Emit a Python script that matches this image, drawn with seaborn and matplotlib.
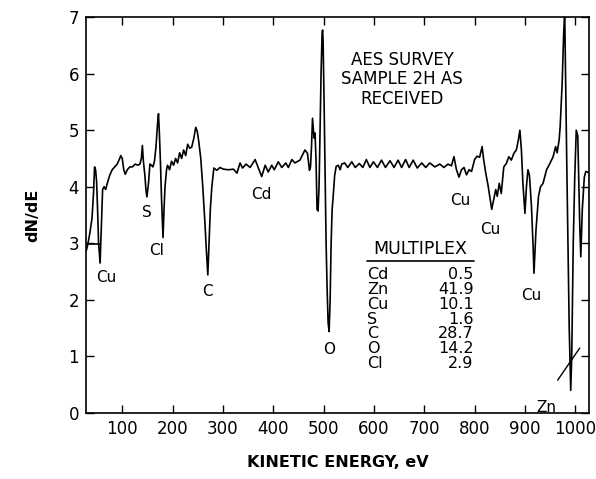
import numpy as np
import pandas as pd
import seaborn as sns
import matplotlib.pyplot as plt

# AES survey spectrum (kinetic energy in eV, dN/dE in arbitrary units)
energy = [29, 32, 36, 40, 43, 45, 47, 49, 51, 53, 56, 59, 61, 64, 67, 70, 75, 80, 85, 90,
          95, 97, 100, 103, 106, 110, 115, 120, 126, 131, 135, 138, 140, 142, 145, 147, 149,
          152, 155, 158, 161, 164, 167, 170, 172, 174, 176, 178, 180, 181, 183, 185, 188, 190,
          194, 198, 202, 206, 210, 214, 218, 222, 226, 230, 234, 238, 242, 246, 249, 252, 256,
          260, 264, 267, 270, 272, 275, 278, 282,
          288, 294, 301, 311, 321, 328, 334, 339, 346, 354, 364, 370, 377, 384, 390, 397, 402,
          410, 417, 425, 430, 437, 443, 453, 463, 468, 472, 474, 476, 478, 481, 483, 485, 487,
          489, 491, 493, 495, 497, 498, 499, 501, 503, 505, 507, 509, 511, 513, 515, 517, 519,
          522, 525, 529, 533, 536, 542, 548, 556, 563, 571, 578, 585, 592, 599, 607, 615, 623,
          632, 640, 648, 655, 663, 670, 678, 686, 695, 703, 711, 721, 731, 739, 747, 754, 759,
          764, 769, 774, 779, 784, 789, 794, 800, 805, 810, 815, 818, 822, 827, 834, 838, 842,
          845, 849, 853, 858, 863, 868, 873, 878, 883, 887, 890, 893, 896, 900, 903, 906, 909,
          913, 916, 918, 922, 927, 931, 936, 943, 949, 956, 961, 964, 968, 970, 974, 977, 979,
          983, 988, 991, 993, 996, 999, 1002, 1005, 1009, 1011, 1014, 1018, 1021, 1026]
dnde = [2.88, 3.0, 3.2, 3.45, 3.9, 4.35, 4.3, 4.1, 3.6, 3.0, 2.65, 3.4, 3.95, 4.0, 3.95, 4.05,
        4.2, 4.3, 4.35, 4.4, 4.5, 4.55, 4.5, 4.3, 4.22, 4.3, 4.35, 4.35, 4.4, 4.38, 4.4, 4.5,
        4.73, 4.45, 4.2, 3.95, 3.82, 4.05, 4.4, 4.38, 4.35, 4.45, 4.7, 5.1, 5.29, 4.9, 4.4, 3.8,
        3.3, 3.1, 3.6, 4.0, 4.3, 4.38, 4.3, 4.45, 4.38, 4.5, 4.42, 4.6, 4.5, 4.65, 4.55, 4.75,
        4.68, 4.7, 4.85, 5.05, 4.98, 4.8, 4.5, 4.0, 3.4, 2.9, 2.44, 2.9, 3.6, 4.0, 4.33,
        4.29, 4.34, 4.31, 4.3, 4.31, 4.24, 4.42, 4.33, 4.4, 4.34, 4.48, 4.34, 4.18, 4.38, 4.26,
        4.38, 4.3, 4.44, 4.34, 4.42, 4.34, 4.48, 4.42, 4.47, 4.65, 4.59, 4.29, 4.35, 4.71, 5.21,
        4.86, 4.95, 4.47, 3.6, 3.57, 4.0, 5.0, 6.0, 6.7, 6.77, 6.6, 5.5, 4.2, 3.0, 2.2, 1.6, 1.44,
        2.0, 3.0, 3.6, 3.82, 4.2, 4.36, 4.38, 4.3, 4.4, 4.42, 4.34, 4.44, 4.34, 4.41, 4.34, 4.48,
        4.34, 4.44, 4.34, 4.47, 4.34, 4.46, 4.34, 4.47, 4.34, 4.48, 4.34, 4.47, 4.33, 4.42, 4.34,
        4.42, 4.35, 4.4, 4.34, 4.4, 4.37, 4.53, 4.3, 4.17, 4.3, 4.34, 4.21, 4.3, 4.27, 4.48, 4.54,
        4.52, 4.71, 4.48, 4.25, 4.01, 3.6, 3.78, 3.95, 3.83, 4.06, 3.88, 4.35, 4.41, 4.53, 4.47,
        4.59, 4.65, 4.83, 5.0, 4.65, 4.06, 3.53, 4.0, 4.3, 4.2, 3.65, 3.0, 2.47, 3.24, 3.83, 4.0,
        4.06, 4.3, 4.4, 4.53, 4.71, 4.6, 4.83, 5.06, 5.83, 6.71, 7.1, 4.5, 1.5, 0.4, 1.0, 3.0,
        4.17, 5.0, 4.9, 3.3, 2.76, 3.6, 4.17, 4.27, 4.25]

# short flat stroke at the start of the trace
stroke_e = [29, 56]
stroke_y = [2.98, 2.98]

# peak labels
peak_names = ['Cu', 'S', 'Cl', 'C', 'Cd', 'O', 'Cu', 'Cu', 'Cu', 'Zn']
peak_e = [68, 148, 169, 269, 376, 511, 771, 832, 913, 942]
peak_y = [2.4, 3.55, 2.88, 2.14, 3.87, 1.13, 3.75, 3.25, 2.08, 0.1]

# multiplex table
mult_elem = ['Cd', 'Zn', 'Cu', 'S', 'C', 'O', 'Cl']
mult_val = ['0.5', '41.9', '10.1', '1.6', '28.7', '14.2', '2.9']

sns.set_style('ticks')
plt.rcParams['font.family'] = ['DejaVu Sans']
plt.rcParams.update({'text.color': 'black', 'axes.labelcolor': 'black',
                     'xtick.color': 'black', 'ytick.color': 'black',
                     'axes.edgecolor': 'black'})

df = pd.DataFrame({'energy': energy, 'dnde': dnde})

fig = plt.figure(figsize=(5.96, 4.79), dpi=100)
ax = fig.add_axes([0.1443, 0.1378, 0.8437, 0.8267])

sns.lineplot(data=df, x='energy', y='dnde', sort=False, estimator=None,
             color='black', linewidth=1.2, ax=ax)
ax.plot(stroke_e, stroke_y, color='black', linewidth=1.2)

ax.set_xlim(28, 1027)
ax.set_ylim(0, 7)
ax.set_xticks(range(100, 1001, 100))
ax.set_yticks(range(0, 8))
ax.tick_params(direction='in', top=True, right=True, length=6, width=1,
               labelsize=12, pad=5)
for s in ax.spines.values():
    s.set_linewidth(1.2)

ax.set_xlabel('KINETIC ENERGY, eV', fontsize=11.5, fontweight='bold', labelpad=12)
ax.set_ylabel('dN/dE', fontsize=11.5, fontweight='bold', labelpad=20)

for name, e, y in zip(peak_names, peak_e, peak_y):
    ax.text(e, y, name, fontsize=11, ha='center', va='center')

# Zn pointer
ax.plot([965, 1009], [0.58, 1.15], color='black', linewidth=1)

ax.text(656, 5.9, 'AES SURVEY\nSAMPLE 2H AS\nRECEIVED', fontsize=12,
        ha='center', va='center', linespacing=1.1)

ax.text(692, 2.9, 'MULTIPLEX', fontsize=12.5, ha='center', va='center')
ax.plot([586, 798], [2.68, 2.68], color='black', linewidth=1.2)
row_y = np.linspace(2.44, 0.88, len(mult_elem))
for el, v, y in zip(mult_elem, mult_val, row_y):
    ax.text(586, y, el, fontsize=11.5, ha='left', va='center')
    ax.text(798, y, v, fontsize=11.5, ha='right', va='center')

fig.savefig('out.png', dpi=100)
